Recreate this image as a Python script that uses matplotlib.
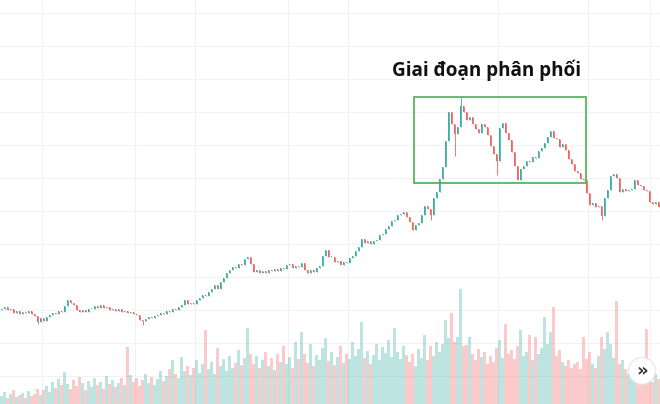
import matplotlib.pyplot as plt
from matplotlib.patches import Rectangle, Ellipse

# closing prices, one per session (open = previous close)
closes = [95, 97, 94, 95, 91, 93, 90, 92, 91, 93,
          90, 88, 82, 86, 83, 87, 89, 91, 90, 93,
          92, 98, 104, 101, 99, 94, 92, 94, 92, 95,
          95, 98, 96, 99, 96, 97, 94, 95, 93, 95,
          92, 93, 91, 92, 90, 89, 84, 83, 85, 87,
          86, 88, 89, 91, 90, 93, 92, 95, 94, 97,
          99, 104, 100, 101, 100, 104, 106, 109, 108, 112,
          115, 119, 115, 122, 126, 131, 134, 137, 136, 140,
          139, 145, 147, 140, 132, 134, 131, 133, 131, 134,
          133, 135, 133, 136, 135, 139, 140, 136, 138, 137,
          141, 134, 131, 134, 132, 136, 138, 148, 154, 147,
          147, 142, 143, 139, 142, 141, 146, 148, 153, 157,
          165, 161, 163, 160, 163, 164, 169, 170, 175, 178,
          183, 184, 189, 190, 192, 187, 182, 174, 179, 181,
          189, 198, 195, 189, 206, 212, 225, 237, 263, 292,
          280, 270, 277, 298, 292, 284, 287, 280, 275, 271,
          280, 277, 269, 258, 250, 243, 276, 281, 271, 264,
          252, 238, 224, 235, 238, 243, 242, 247, 246, 253,
          256, 261, 267, 273, 266, 265, 257, 260, 254, 245,
          240, 233, 231, 225, 224, 211, 199, 201, 197, 198,
          188, 206, 214, 228, 230, 226, 212, 215, 213, 214,
          215, 224, 219, 218, 214, 213, 202, 200, 202, 197]
first_open = 94

# long shadows that stick out of the body
wick_idx = [12, 47, 143, 151, 153, 165, 200]
wick_val = [80, 79, 184, 248, 307, 229, 184]

volumes = [8, 12, 6, 10, 14, 7, 9, 11, 6, 13,
           8, 10, 15, 9, 14, 18, 12, 22, 16, 25,
           19, 32, 20, 15, 24, 18, 27, 21, 14, 23,
           17, 26, 19, 22, 15, 28, 20, 24, 17, 21,
           26, 19, 57, 29, 22, 26, 18, 24, 30, 21,
           27, 19, 25, 33, 23, 28, 35, 44, 30, 26,
           47, 33, 38, 29, 36, 44, 31, 40, 74, 35,
           42, 30, 56, 38, 45, 33, 48, 36, 41, 54,
           39, 46, 76, 50, 40, 48, 36, 44, 52, 38,
           46, 34, 50, 42, 58, 40, 47, 36, 62, 45,
           72, 50, 41, 60, 38, 49, 44, 56, 66, 43,
           52, 39, 47, 58, 41, 50, 45, 62, 48, 55,
           82, 46, 53, 40, 49, 60, 44, 57, 51, 64,
           47, 76, 52, 45, 58, 49, 42, 50, 38, 55,
           46, 69, 44, 58, 48, 62, 52, 60, 84, 66,
           91, 62, 67, 115, 58, 59, 67, 50, 44, 55,
           47, 52, 40, 48, 42, 56, 64, 46, 80, 50,
           54, 45, 58, 74, 48, 52, 69, 44, 67, 50,
           56, 87, 60, 72, 97, 48, 54, 42, 38, 44,
           36, 40, 42, 35, 67, 45, 52, 40, 36, 48,
           67, 55, 72, 60, 46, 103, 40, 44, 35, 30,
           38, 28, 24, 30, 20, 75, 26, 22, 30, 25]

month_ticks = [13.5, 44.5, 64.5, 95.5, 115.5, 165.5, 195.5, 216]
price_grid = [28, 61, 94, 127, 160, 193, 226, 259, 292, 325, 358, 391]

UP = "#26a69a"
DOWN = "#ef5350"

n = len(closes)
opens = [first_open] + closes[:-1]
colors = [UP if c >= o else DOWN for o, c in zip(opens, closes)]
highs = [max(o, c) for o, c in zip(opens, closes)]
lows = [min(o, c) for o, c in zip(opens, closes)]
for i, v in zip(wick_idx, wick_val):
    highs[i] = max(highs[i], v)
    lows[i] = min(lows[i], v)

fig = plt.figure(figsize=(6.6, 4.04), dpi=100)
ax = fig.add_axes([0, 0, 1, 1])
ax_vol = fig.add_axes([0, 0, 1, 1])
ax_vol.patch.set_visible(False)

# grid
ax.set_axisbelow(True)
ax.set_xticks(month_ticks)
ax.set_yticks(price_grid)
ax.grid(True, color="#f1f2f4", linewidth=0.8)
ax.tick_params(length=0, labelbottom=False, labelleft=False)

# candles
x = list(range(n))
ax.vlines(x, lows, highs, colors=colors, linewidth=0.6, alpha=0.9)
body = [max(abs(c - o), 0.8) for o, c in zip(opens, closes)]
ax.bar(x, body, bottom=[min(o, c) for o, c in zip(opens, closes)],
       width=0.5, color=colors, linewidth=0, alpha=0.9)
ax.set_xlim(-0.5, n - 0.5)
ax.set_ylim(0, 404)

# volume
ax_vol.bar(x, volumes, width=0.82, color=colors, alpha=0.3, linewidth=0)
ax_vol.set_xlim(-0.5, n - 0.5)
ax_vol.set_ylim(0, 404)
ax_vol.axis("off")

for a in (ax, ax_vol):
    for s in a.spines.values():
        s.set_visible(False)

# distribution box
ax.add_patch(Rectangle((137.5, 221), 57.3, 86, fill=False,
                       edgecolor="#4caf50", linewidth=1.2, zorder=5))
fig.text(487 / 660, 1 - 76 / 404, "Giai đoạn phân phối", ha="center",
         va="baseline", fontsize=13.6, fontweight="bold",
         family="Open Sans", color="#111111")

# scroll button
fig.add_artist(Ellipse((642 / 660, 1 - 371 / 404), 27 / 660, 27 / 404,
                       transform=fig.transFigure, color="#e6e6e6", alpha=0.7))
fig.add_artist(Ellipse((642 / 660, 1 - 371 / 404), 24 / 660, 24 / 404,
                       transform=fig.transFigure, color="white"))
fig.text(642 / 660, 1 - 371 / 404, "»", ha="center", va="center",
         fontsize=13, fontweight="bold", color="#333333")

fig.savefig("out.png", dpi=100)
